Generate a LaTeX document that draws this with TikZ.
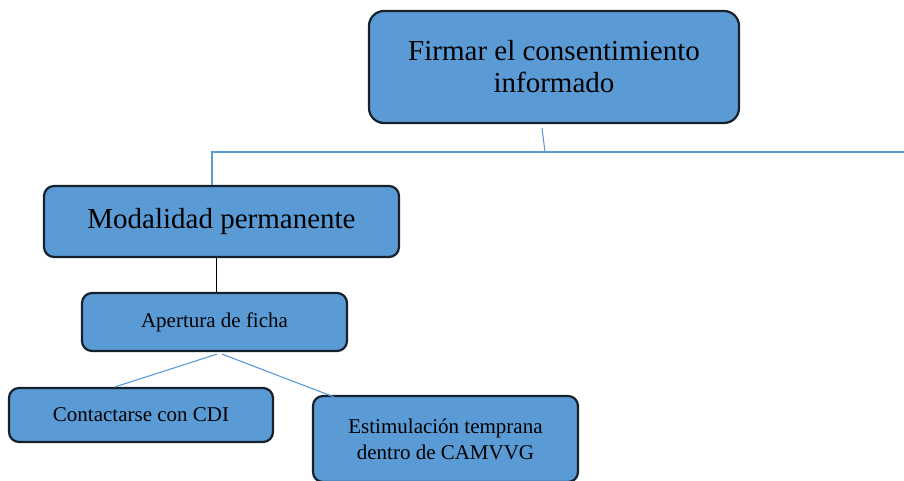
\documentclass[tikz,border=0pt]{standalone}
\usepackage{fontspec}
\setmainfont{Liberation Serif}
\usetikzlibrary{positioning,calc}
\definecolor{boxfill}{HTML}{5B9BD5}
\definecolor{boxedge}{HTML}{17212C}
\definecolor{linkblue}{HTML}{5B9BD5}

\begin{document}
\begin{tikzpicture}[x=1pt,y=-1pt,
      stepbox/.style={rectangle,draw=boxedge,fill=boxfill,line width=2.2pt,
                      rounded corners=10pt,inner sep=0pt,align=center,text=black},
      bigbox/.style={stepbox,rounded corners=15pt,font=\fontsize{29}{32}\selectfont},
      smallbox/.style={stepbox,font=\fontsize{21}{26}\selectfont},
      link/.style={draw=linkblue,line width=1.1pt},
      trunk/.style={draw=black,line width=1pt}
    ]
    \useasboundingbox (0,0) rectangle (904,480);

    % Top decision
    \node[bigbox,minimum width=370pt,minimum height=112pt] (T) at (554,67)
      {Firmar el consentimiento\\informado};

    % Modality
    \node[bigbox,rounded corners=10pt,minimum width=355pt,minimum height=71pt] (M) at (221.5,221.5)
      {Modalidad permanente};

    % Steps
    \node[smallbox,minimum width=265pt,minimum height=58pt] (A) at (214.5,322) {Apertura de ficha};
    \node[smallbox,minimum width=264pt,minimum height=54pt] (C) at (141,415) {Contactarse con CDI};
    \node[smallbox,minimum width=265pt,minimum height=86pt] (E) at (445.5,439)
      {Estimulaci\'on temprana\\dentro de CAMVVG};

    % Branch line
    \coordinate (stub) at (542,128);
    \coordinate (hub) at (545,152);
    \coordinate (hubL) at (212,152);
    \coordinate (hubR) at (904,152);
    \draw[link] (stub) -- (hub);
    \draw[link] (hubR) -- (hubL) -- (hubL |- M.north);

    % Links below
    \draw[trunk] (M.south -| 216,0) -- (A.north -| 216,0);
    \draw[link] ($(A.south)+(2.5,2)$) -- (C.north -| 115,0);
    \draw[link] ($(A.south)+(7.5,2)$) -- ($(E.north west)+(22,2)$);

  \end{tikzpicture}
\end{document}
